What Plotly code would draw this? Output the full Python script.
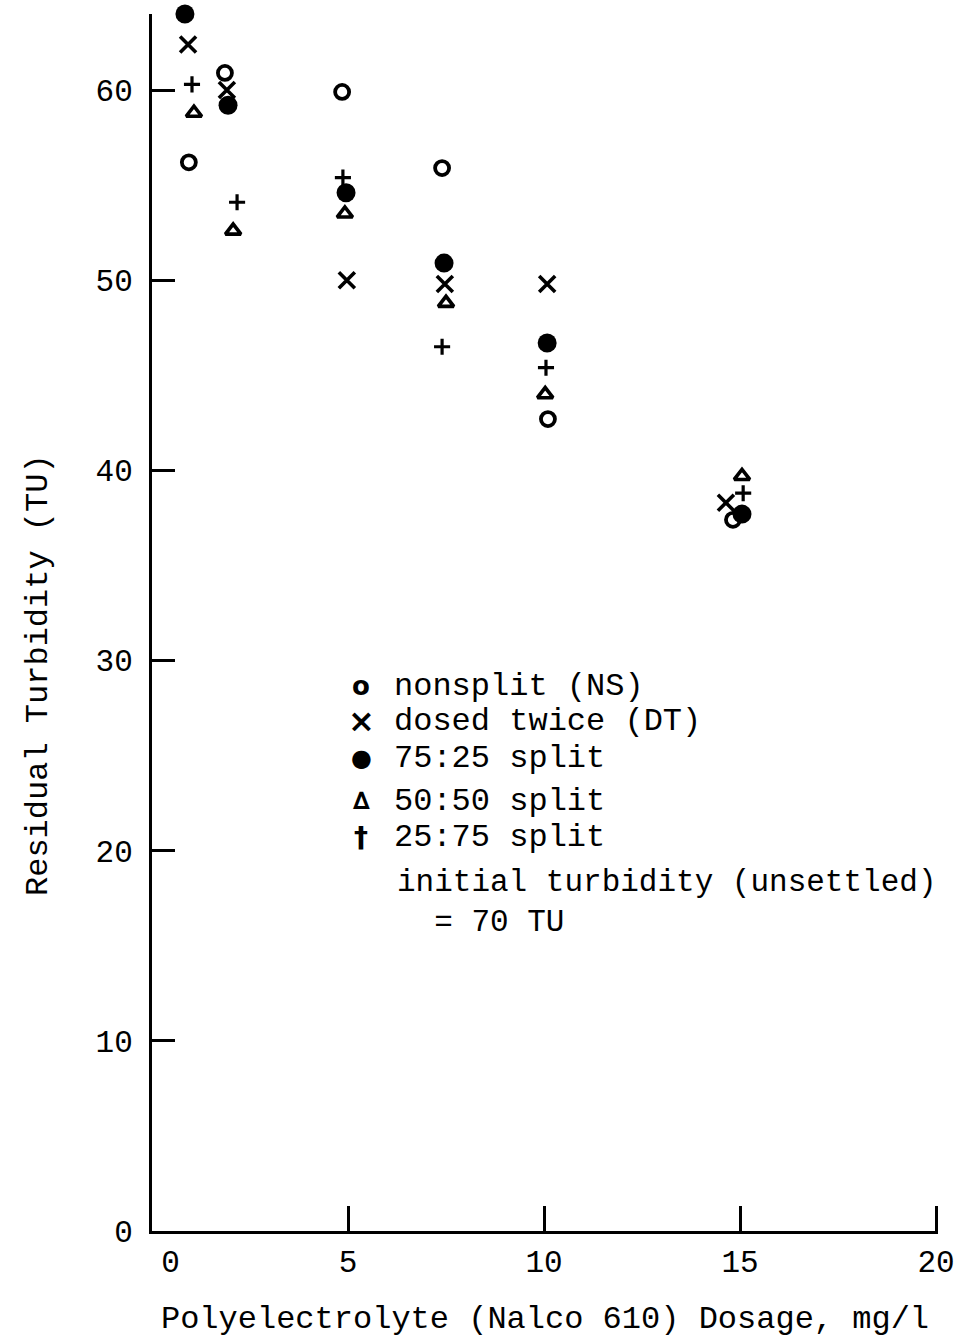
import plotly.graph_objects as go

# Residual turbidity (TU) vs polyelectrolyte dosage (mg/l) for five dosing schemes
ns_x = [0.94, 1.86, 4.85, 7.40, 10.10, 14.82]
ns_y = [56.2, 60.9, 59.9, 55.9, 42.7, 37.4]

dt_x = [0.92, 1.91, 4.97, 7.47, 10.08, 14.64]
dt_y = [62.4, 60.0, 50.0, 49.8, 49.8, 38.3]

s7525_x = [0.84, 1.94, 4.95, 7.45, 10.08, 15.05]
s7525_y = [64.0, 59.2, 54.6, 50.9, 46.7, 37.7]

s5050_x = [1.07, 2.07, 4.92, 7.50, 10.03, 15.05]
s5050_y = [58.8, 52.6, 53.5, 48.8, 44.0, 39.7]

s2575_x = [1.02, 2.17, 4.87, 7.40, 10.05, 15.08]
s2575_y = [60.3, 54.1, 55.4, 46.5, 45.4, 38.8]

x_ticks = [0, 5, 10, 15, 20]
x_ticktext = ["\u00a0\u00a00", "5", "10", "15", "20"]
y_ticks = [0, 10, 20, 30, 40, 50, 60]

key_symbols = ["<b>o</b>", "<b>×</b>", "●", "<b>∆</b>", "<b>†</b>"]
key_labels = ["nonsplit (NS)", "dosed twice (DT)", "75:25 split", "50:50 split", "25:75 split"]
note_text = "initial turbidity (unsettled)<br>  = 70 TU"

MONO = "Liberation Mono, Courier New, monospace"
W, H = 965, 1338
L, R, T, B = 152, 27, 14, 107
X_MAX, Y_MAX = 20.05, 64

fig = go.Figure()

series = [
    ("nonsplit (NS)", ns_x, ns_y, dict(symbol="circle-open", size=14, line=dict(width=3.8, color="black"))),
    ("dosed twice (DT)", dt_x, dt_y, dict(symbol="x-thin-open", size=16, line=dict(width=3.6, color="black"))),
    ("75:25 split", s7525_x, s7525_y, dict(symbol="circle", size=19, line=dict(width=0))),
    ("50:50 split", s5050_x, s5050_y, dict(symbol="triangle-up-open", size=13.5, line=dict(width=3.6, color="black"))),
    ("25:75 split", s2575_x, s2575_y, dict(symbol="cross-thin-open", size=11.5, line=dict(width=3.2, color="black"))),
]
for name, xs, ys, mk in series:
    fig.add_trace(go.Scatter(
        x=xs, y=ys, mode="markers", name=name, showlegend=False,
        marker=dict(color="black", **mk), cliponaxis=False,
    ))


def paper(px, py):
    """Convert page pixel position to paper coordinates."""
    return (px - L) / (W - L - R), (H - B - py) / (H - T - B)


annotations = []
key_rows = [686, 721, 758, 801, 837]
key_sizes = [26, 32, 24, 24, 28]
for sym, lab, ry, sz in zip(key_symbols, key_labels, key_rows, key_sizes):
    sx, sy = paper(361, ry)
    annotations.append(dict(x=sx, y=sy, xref="paper", yref="paper", text=sym,
                            showarrow=False, xanchor="center", yanchor="middle",
                            font=dict(family="DejaVu Sans", size=sz, color="black")))
    tx, ty = paper(392, ry)
    annotations.append(dict(x=tx, y=ty, xref="paper", yref="paper", text=lab,
                            showarrow=False, xanchor="left", yanchor="middle",
                            font=dict(family=MONO, size=32, color="black")))

nx, ny = paper(395, 902)
annotations.append(dict(x=nx, y=ny, xref="paper", yref="paper",
                        text=note_text.replace(" ", "\u00a0"), align="left",
                        showarrow=False, xanchor="left", yanchor="middle",
                        font=dict(family=MONO, size=31, color="black")))

# vertical axis title
yx, yy = paper(38, 675)
annotations.append(dict(x=yx, y=yy, xref="paper", yref="paper",
                        text="Residual Turbidity (TU)", textangle=-90,
                        showarrow=False, xanchor="center", yanchor="middle",
                        font=dict(family=MONO, size=32, color="black")))

fig.update_layout(
    width=W, height=H,
    margin=dict(l=L, r=R, t=T, b=B, pad=0, autoexpand=False),
    paper_bgcolor="white", plot_bgcolor="white",
    showlegend=False,
    font=dict(family=MONO, size=31, color="black"),
    annotations=annotations,
    xaxis=dict(
        range=[0, X_MAX], tickvals=x_ticks, ticktext=x_ticktext,
        ticks="inside", ticklen=25, tickwidth=2.5, tickcolor="black",
        showline=True, linewidth=3, linecolor="black", mirror=False,
        showgrid=False, zeroline=False, automargin=False,
        tickfont=dict(family=MONO, size=31),
        ticklabelstandoff=1,
        title=dict(text="Polyelectrolyte (Nalco 610) Dosage, mg/l",
                   font=dict(family=MONO, size=32), standoff=29),
    ),
    yaxis=dict(
        range=[0, Y_MAX], tickvals=y_ticks,
        ticks="inside", ticklen=23, tickwidth=2.5, tickcolor="black",
        showline=True, linewidth=3, linecolor="black", mirror=False,
        showgrid=False, zeroline=False, automargin=False,
        tickfont=dict(family=MONO, size=31),
        ticklabelstandoff=10,
    ),
)

fig.write_html("out.html")
